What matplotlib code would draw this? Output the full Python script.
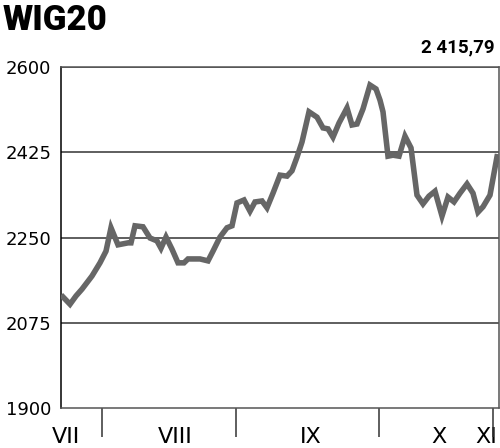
import matplotlib.pyplot as plt

# WIG20, lipiec - listopad
pos = [2, 9, 15, 21, 31, 39, 45, 50, 57, 67, 70, 74, 82, 89, 96, 100, 105, 111,
       117, 123, 127, 139, 147, 152, 159, 166, 171, 176, 183, 189, 194, 201, 206,
       212, 219, 226, 231, 236, 241, 248, 256, 262, 267, 272, 278, 286, 291, 296,
       302, 309, 315, 319, 322, 327, 332, 338, 344, 350, 356, 362, 368, 374, 381,
       387, 393, 399, 406, 412, 417, 422, 429, 436]
wig20 = [2128, 2113, 2130, 2144, 2171, 2198, 2222, 2270, 2235, 2239, 2239, 2274,
         2272, 2249, 2243, 2228, 2251, 2226, 2198, 2198, 2206, 2206, 2202, 2222,
         2251, 2270, 2274, 2321, 2327, 2304, 2323, 2325, 2311, 2341, 2378, 2376,
         2387, 2415, 2446, 2508, 2497, 2475, 2473, 2456, 2485, 2516, 2481, 2483,
         2514, 2563, 2555, 2532, 2508, 2417, 2419, 2417, 2458, 2434, 2337, 2319,
         2335, 2345, 2294, 2333, 2323, 2341, 2360, 2341, 2302, 2313, 2337, 2415.79]
month_bounds = [41, 175, 318, 432]
month_pos = [5, 114, 250, 378, 425]
months = ["VII", "VIII", "IX", "X", "XI"]
yticks = [1900, 2075, 2250, 2425, 2600]
last = "2 415,79"

fig = plt.figure(figsize=(5, 4.48), dpi=100)
ax = fig.add_axes([0.122, 0.0893, 0.876, 0.7611])

ax.plot(pos, wig20, color="#666666", lw=4, solid_joinstyle="miter", zorder=3)

ax.set_xlim(0, 438)
ax.set_ylim(1900, 2600)
ax.set_yticks(yticks)
ax.set_yticklabels([str(v) for v in yticks], fontsize=13, family="DejaVu Sans")
ax.tick_params(axis="y", length=0, pad=7)
for v in yticks[1:]:
    ax.axhline(v, color="#333333", lw=1.1, zorder=1)

ax.set_xticks(month_pos)
ax.set_xticklabels(months, fontsize=16, family="DejaVu Sans")
ax.set_xticks(month_bounds, minor=True)
ax.tick_params(axis="x", which="major", length=0, pad=14)
ax.tick_params(axis="x", which="minor", length=21, width=1.1, color="#333333")

for s in ["top", "right"]:
    ax.spines[s].set_color("#555555")
ax.spines["left"].set_color("#000000")
ax.spines["bottom"].set_color("#555555")
for s in ax.spines.values():
    s.set_linewidth(1.1)

fig.text(0.006, 0.955, "WIG20", fontsize=25, fontweight="heavy", family="Roboto",
         va="center", ha="left")
fig.text(0.99, 0.895, last, fontsize=13.5, fontweight="bold", family="Roboto",
         va="center", ha="right")

fig.savefig("out.png", dpi=100)
